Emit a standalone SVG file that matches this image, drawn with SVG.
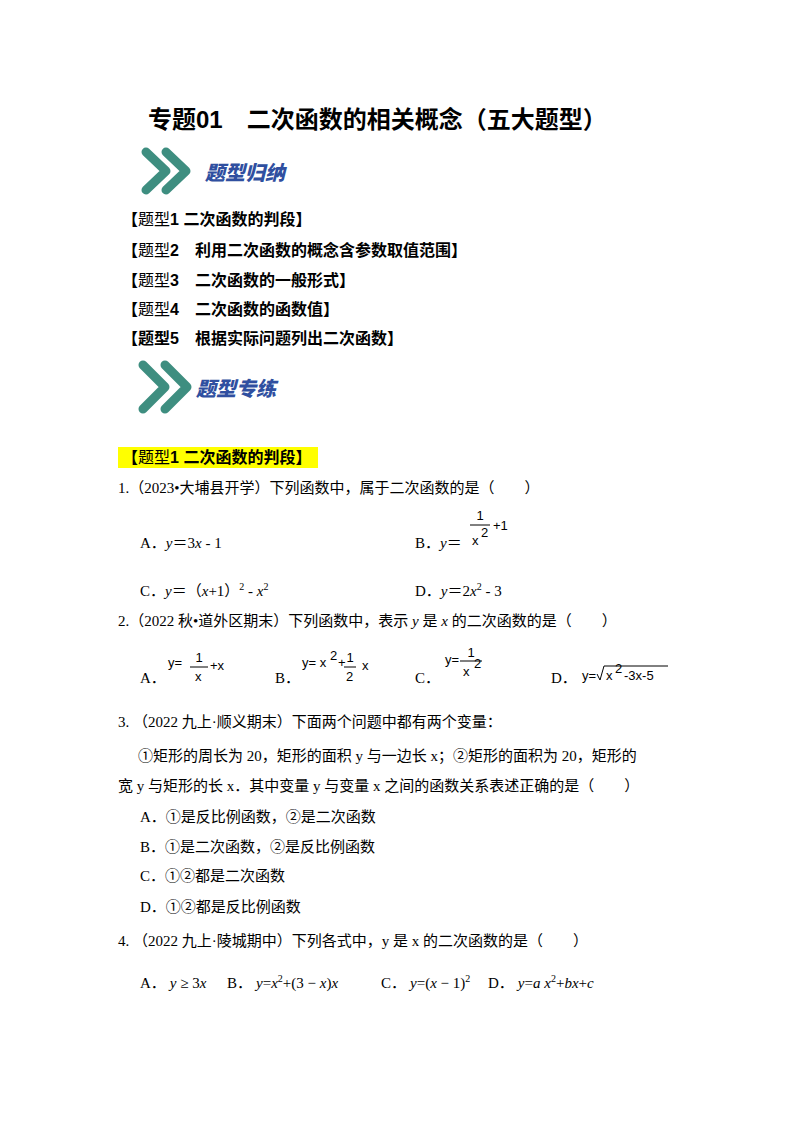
<svg xmlns="http://www.w3.org/2000/svg" width="800" height="1132" viewBox="0 0 800 1132">
<style>
text{font-family:"Liberation Serif","Noto Sans CJK SC",serif;font-size:15px;fill:#000}
.b{font-family:"Liberation Sans","Noto Sans CJK SC",sans-serif;font-weight:bold;font-size:16px}
.s{font-family:"Liberation Sans","Noto Sans CJK SC",sans-serif;font-size:13px}
.ban{font-family:"Noto Sans CJK SC",sans-serif;font-weight:900;font-size:20px;fill:#2f4fa0;font-style:italic}
.chev{fill:none;stroke:#3e8e80;stroke-width:9;stroke-linecap:round;stroke-linejoin:round}
.i{font-style:italic}
</style>
<rect width="800" height="1132" fill="#fff"/>
<text x="148" y="128" class="b" style="font-size:24px">专题01　二次函数的相关概念（五大题型）</text>
<g id="banner1">
<path class="chev" d="M146 152 L166 171 L146 190 M166 152 L186 171 L166 190"/>
<text x="205" y="180" class="ban">题型归纳</text>
</g>
<g id="list">
<text x="122" y="225" class="b">【<tspan font-weight="normal">题型</tspan>1  二次函数的判段】</text>
<text x="122" y="256" class="b">【<tspan font-weight="normal">题型</tspan>2　利用二次函数的概念含参数取值范围】</text>
<text x="122" y="286" class="b">【<tspan font-weight="normal">题型</tspan>3　二次函数的一般形式】</text>
<text x="122" y="315" class="b">【<tspan font-weight="normal">题型</tspan>4　二次函数的函数值】</text>
<text x="122" y="344" class="b">【题型5　根据实际问题列出二次函数】</text>
</g>
<g id="banner2">
<path class="chev" d="M143 365 L165 387 L143 409 M165 365 L187 387 L165 409"/>
<text x="196" y="396" class="ban">题型专练</text>
</g>
<rect x="118" y="447" width="200" height="21" fill="#ffff00"/>
<text x="122" y="463" class="b">【<tspan font-weight="normal">题型</tspan>1 二次函数的判段】</text>
<text x="118" y="493">1.（2023•大埔县开学）下列函数中，属于二次函数的是（　　）</text>
<text x="140" y="548">A．<tspan class="i">y</tspan>＝3<tspan class="i">x</tspan> - 1</text>
<text x="415" y="548">B．<tspan class="i">y</tspan>＝</text>
<text x="480" y="520" class="s" text-anchor="middle">1</text>
<line x1="470" y1="525" x2="490" y2="525" stroke="#000"/>
<text x="472" y="545" class="s">x</text><text x="481" y="537" class="s">2</text>
<text x="493" y="530" class="s">+1</text>
<text x="140" y="596">C．<tspan class="i">y</tspan>＝（<tspan class="i">x</tspan>+1）<tspan font-size="10" dy="-6">2</tspan><tspan dy="6"> - </tspan><tspan class="i">x</tspan><tspan font-size="10" dy="-6">2</tspan></text>
<text x="415" y="596">D．<tspan class="i">y</tspan>＝2<tspan class="i">x</tspan><tspan font-size="10" dy="-6">2</tspan><tspan dy="6"> - 3</tspan></text>
<text x="118" y="626">2.（2022 秋•道外区期末）下列函数中，表示 <tspan class="i">y</tspan> 是 <tspan class="i">x</tspan> 的二次函数的是（　　）</text>
<text x="140" y="683">A．</text>
<text x="168" y="667" class="s">y=</text><text x="199" y="662" class="s" text-anchor="middle">1</text>
<line x1="190" y1="667" x2="208" y2="667" stroke="#000"/><text x="195" y="681" class="s">x</text><text x="210" y="670" class="s">+x</text>
<text x="275" y="683">B．</text>
<text x="302" y="667" class="s">y= x</text><text x="330" y="660" class="s" font-size="10">2</text><text x="338" y="667" class="s">+</text>
<text x="350" y="662" class="s" text-anchor="middle">1</text><line x1="344" y1="667" x2="356" y2="667" stroke="#000"/><text x="346" y="681" class="s">2</text><text x="362" y="670" class="s">x</text>
<text x="415" y="683">C．</text>
<text x="445" y="664" class="s">y=</text><text x="471" y="657" class="s" text-anchor="middle">1</text>
<line x1="460" y1="661" x2="482" y2="661" stroke="#000"/><text x="463" y="676" class="s">x</text><text x="474" y="668" class="s">2</text>
<text x="551" y="683">D．</text>
<text x="582" y="680" class="s">y=</text>
<path d="M597 674 L600 680 L604 666 L668 666" fill="none" stroke="#000"/>
<text x="606" y="680" class="s">x</text><text x="615" y="673" class="s">2</text><text x="624" y="680" class="s">-3x-5</text>
<text x="118" y="727">3.  （2022 九上·顺义期末）下面两个问题中都有两个变量：</text>
<text x="138" y="761">①矩形的周长为 20，矩形的面积 y 与一边长 x；②矩形的面积为 20，矩形的</text>
<text x="118" y="791">宽 y 与矩形的长 x．其中变量 y 与变量 x 之间的函数关系表述正确的是（　　）</text>
<text x="140" y="822">A．①是反比例函数，②是二次函数</text>
<text x="140" y="852">B．①是二次函数，②是反比例函数</text>
<text x="140" y="881">C．①②都是二次函数</text>
<text x="140" y="912">D．①②都是反比例函数</text>
<text x="118" y="946">4.  （2022 九上·陵城期中）下列各式中，y 是 x 的二次函数的是（　　）</text>
<text x="140" y="988">A．<tspan class="i" dx="4">y</tspan> ≥ 3<tspan class="i">x</tspan></text>
<text x="227" y="988">B．<tspan class="i" dx="4">y</tspan>=<tspan class="i">x</tspan><tspan font-size="10" dy="-6">2</tspan><tspan dy="6">+(3 − </tspan><tspan class="i">x</tspan>)<tspan class="i">x</tspan></text>
<text x="381" y="988">C．<tspan class="i" dx="4">y</tspan>=(<tspan class="i">x</tspan> − 1)<tspan font-size="10" dy="-6">2</tspan></text>
<text x="488" y="988">D．<tspan class="i" dx="4">y</tspan>=<tspan class="i">a x</tspan><tspan font-size="10" dy="-6">2</tspan><tspan dy="6">+</tspan><tspan class="i">bx</tspan>+<tspan class="i">c</tspan></text>
</svg>
